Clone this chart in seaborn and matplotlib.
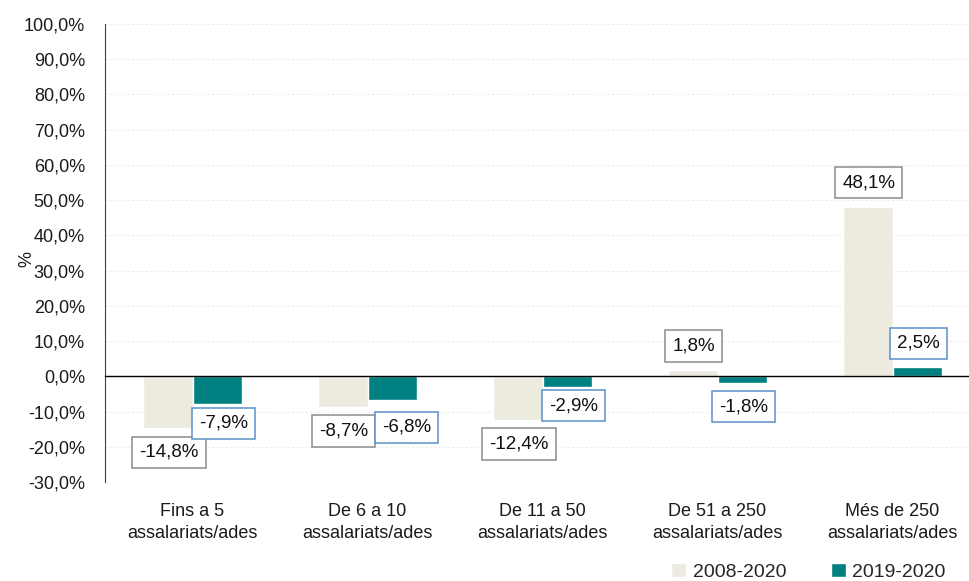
import matplotlib
matplotlib.use("Agg")
import matplotlib.pyplot as plt
import matplotlib.transforms as mtransforms
import pandas as pd
import seaborn as sns

# Chart data
categories = [
    "Fins a 5\nassalariats/ades",
    "De 6 a 10\nassalariats/ades",
    "De 11 a 50\nassalariats/ades",
    "De 51 a 250\nassalariats/ades",
    "Més de 250\nassalariats/ades",
]
periods = ["2008-2020", "2019-2020"]
values_2008_2020 = [-14.8, -8.7, -12.4, 1.8, 48.1]
values_2019_2020 = [-7.9, -6.8, -2.9, -1.8, 2.5]
y_ticks = list(range(-30, 101, 10))
y_tick_labels = [f"{t},0%" for t in y_ticks]

colors = {"2008-2020": "#EDEAE0", "2019-2020": "#008080"}
box_edges = {"2008-2020": "#8c8c8c", "2019-2020": "#5b8fc9"}

# small manual nudges (pixels) of some labels, as in the original to avoid overlap
label_nudge = {("2019-2020", 0): (6, 5), ("2019-2020", 1): (14, -3),
               ("2019-2020", 2): (6, 5)}

df = pd.DataFrame({
    "Categoria": categories * 2,
    "Periode": [periods[0]] * len(categories) + [periods[1]] * len(categories),
    "Valor": values_2008_2020 + values_2019_2020,
})

sns.set_style("white")
plt.rcParams["font.family"] = ["Liberation Sans", "DejaVu Sans"]

fig = plt.figure(figsize=(9.69, 5.81), dpi=100)
ax = fig.add_axes([0.1084, 0.1704, 0.8916, 0.7883])

sns.barplot(data=df, x="Categoria", y="Valor", hue="Periode", order=categories,
            hue_order=periods, palette=colors, width=0.566, saturation=1,
            errorbar=None, legend=False, ax=ax)

# data labels in boxes
for period, cont in zip(periods, ax.containers):
    for i, bar in enumerate(cont):
        v = bar.get_height()
        x = bar.get_x() + bar.get_width() / 2
        off = 24 if v >= 0 else -24
        dx, dy = label_nudge.get((period, i), (1, 0))
        ax.annotate(f"{v:.1f}%".replace(".", ","), xy=(x, v),
                    xytext=(dx, off + dy), textcoords="offset pixels",
                    ha="center", va="center", fontsize=13.5, color="#111111",
                    bbox=dict(boxstyle="square,pad=0.38", fc="white",
                              ec=box_edges[period], lw=1.1))

ax.set_ylim(-30, 100)
ax.set_xlim(-0.5, 4.437)
ax.set_yticks(y_ticks)
ax.set_yticklabels(y_tick_labels, fontsize=13, color="#1a1a1a")
ax.yaxis.grid(True, color="#ebebeb", linestyle=(0, (2, 2)), linewidth=0.8)
ax.set_axisbelow(True)

# x axis at zero with ticks between categories
ax.spines["bottom"].set_position(("data", 0))
ax.spines["bottom"].set_color("black")
ax.spines["bottom"].set_linewidth(1.0)
ax.spines["left"].set_color("#404040")
ax.spines["top"].set_visible(False)
ax.spines["right"].set_visible(False)
ax.set_xticks([0.5, 1.5, 2.5, 3.5])
ax.set_xticklabels([])
ax.tick_params(axis="x", direction="out", length=4.5, color="black", width=1)
ax.tick_params(axis="y", direction="out", length=4.5, color="#404040", width=1, pad=10)
ax.set_xlabel("")

trans = mtransforms.blended_transform_factory(ax.transData, ax.transAxes)
for i, c in enumerate(categories):
    ax.text(i, -0.046, c, transform=trans, ha="center", va="top",
            fontsize=13, color="#1a1a1a", linespacing=1.4)

ax.set_ylabel("%", fontsize=13, color="#1a1a1a")
ax.yaxis.set_label_coords(-0.081, 0.487)

handles = list(ax.containers[0][:1]) + list(ax.containers[1][:1])
fig.legend(handles, periods, loc="lower right", bbox_to_anchor=(0.994, -0.030),
           ncol=2, frameon=False, fontsize=14, handlelength=0.75,
           handleheight=0.75, handletextpad=0.35, columnspacing=2.3)

fig.savefig("out.png", dpi=100)
